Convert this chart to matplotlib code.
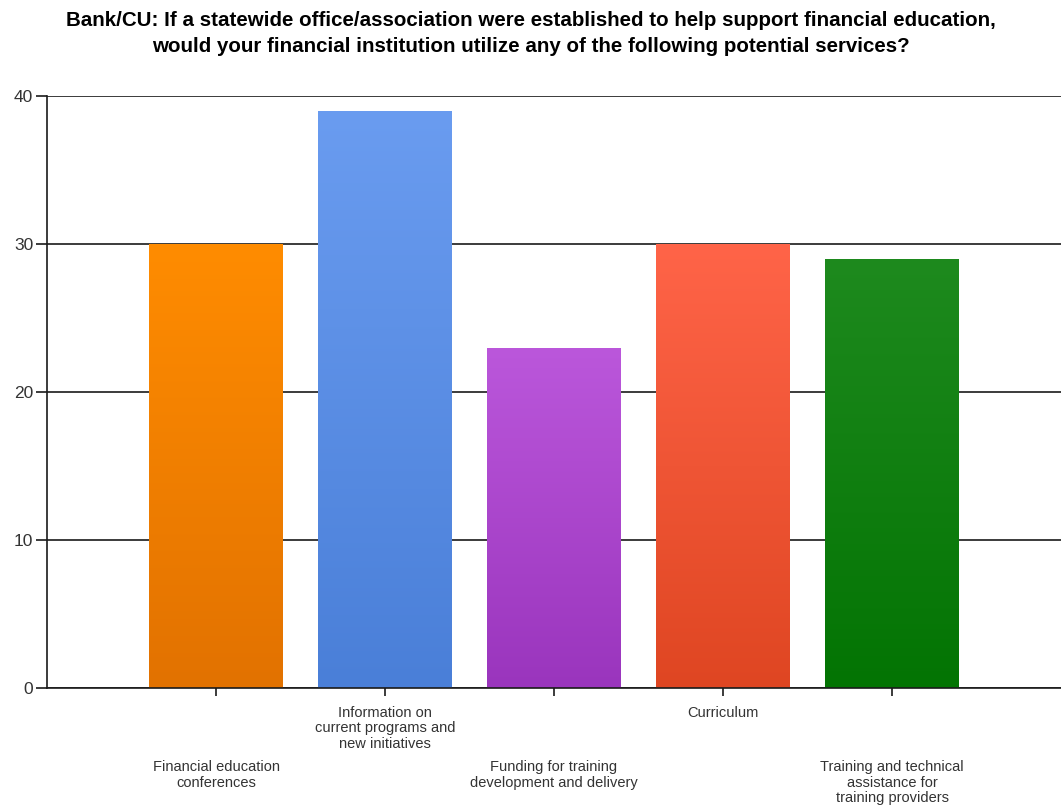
import matplotlib.pyplot as plt
import numpy as np
from matplotlib.colors import LinearSegmentedColormap

plt.rcParams['font.family'] = ['Liberation Sans', 'DejaVu Sans']

categories = ["Financial education\nconferences",
              "Information on\ncurrent programs and\nnew initiatives",
              "Funding for training\ndevelopment and delivery",
              "Curriculum",
              "Training and technical\nassistance for\ntraining providers"]
values = [30, 39, 23, 30, 29]
# (top colour, bottom colour) for each bar
colors = [("#ff8c00", "#e27200"),
          ("#6a9cf0", "#4a7fd8"),
          ("#bb57db", "#9a35bd"),
          ("#ff6448", "#df4622"),
          ("#1e8a1e", "#037403")]

fig = plt.figure(figsize=(10.61, 8.07), dpi=100)
ax = fig.add_axes([0.0443, 0.1475, 0.9557, 0.7335])

x = np.arange(len(values))
bars = ax.bar(x, values, width=0.79, zorder=2)

# vertical gradient in each bar
grad = np.linspace(0, 1, 256).reshape(-1, 1)
for b, (top, bot) in zip(bars, colors):
    b.set_facecolor(bot)
    b.set_edgecolor('none')
    cmap = LinearSegmentedColormap.from_list('g', [bot, top])
    x0, w, h = b.get_x(), b.get_width(), b.get_height()
    im = ax.imshow(grad, extent=[x0, x0 + w, 0, h], origin='lower',
                   cmap=cmap, aspect='auto', zorder=2.5)
    im.set_clip_path(b)

ax.set_xlim(-1, 5)
ax.set_ylim(0, 40)
ax.set_yticks([0, 10, 20, 30, 40])
ax.yaxis.grid(True, color='#1a1a1a', linewidth=1.2, zorder=1)
ax.set_axisbelow(True)

for s in ['top', 'right']:
    ax.spines[s].set_visible(False)
for s in ['left', 'bottom']:
    ax.spines[s].set_color('#1a1a1a')
    ax.spines[s].set_linewidth(1.2)

ax.tick_params(axis='y', length=8, width=1.2, color='#1a1a1a', labelsize=12.5,
               pad=2, labelcolor='#333333')
ax.set_xticks(x)
ax.set_xticklabels([])
ax.tick_params(axis='x', length=6, width=1.2, color='#1a1a1a')

# staggered category labels
for i, lab in enumerate(categories):
    off = -13 if i % 2 == 1 else -52
    ax.annotate(lab, (i, 0), xytext=(0, off), textcoords='offset points',
                ha='center', va='top', fontsize=10.5, color='#333333',
                linespacing=1.12, annotation_clip=False)

fig.suptitle("Bank/CU: If a statewide office/association were established to help support financial education,\n"
             "would your financial institution utilize any of the following potential services?",
             x=0.5, y=0.986, fontsize=14.8, fontweight='bold', linespacing=1.45)

fig.savefig('out.png', dpi=100)
